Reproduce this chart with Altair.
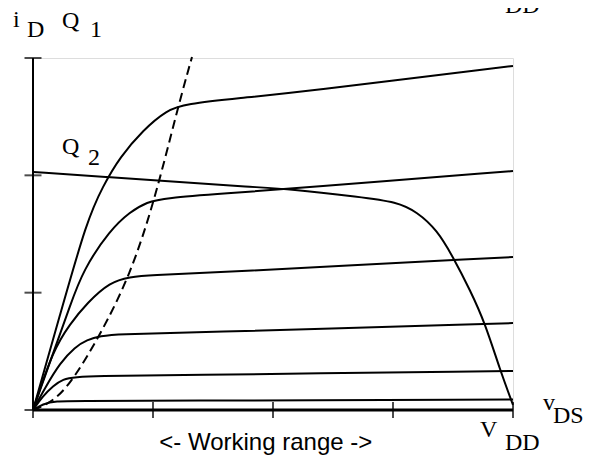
import altair as alt
import pandas as pd

# Family of MOSFET characteristic curves (v in VDD/4 units, i in tick units)
c1_v = [0, 0.225, 0.45, 0.583, 0.725, 0.917, 1.117, 1.267, 1.725, 2.225, 4.0]
c1_i = [0, 0.810, 1.619, 1.909, 2.156, 2.386, 2.557, 2.608, 2.659, 2.710, 2.932]
c2_v = [0, 0.183, 0.308, 0.417, 0.642, 0.808, 0.95, 1.1, 1.6, 2.225, 4.0]
c2_i = [0, 0.528, 0.886, 1.193, 1.534, 1.688, 1.773, 1.807, 1.845, 1.892, 2.037]
c3_v = [0, 0.167, 0.308, 0.45, 0.642, 0.808, 0.975, 1.5, 4.0]
c3_i = [0, 0.511, 0.733, 0.912, 1.091, 1.134, 1.151, 1.170, 1.304]
c4_v = [0, 0.1, 0.225, 0.35, 0.45, 0.558, 0.725, 1.2, 4.0]
c4_i = [0, 0.188, 0.401, 0.537, 0.597, 0.631, 0.648, 0.655, 0.741]
c5_v = [0, 0.083, 0.167, 0.25, 0.35, 0.558, 1.0, 4.0]
c5_i = [0, 0.119, 0.205, 0.264, 0.281, 0.29, 0.295, 0.332]
c6_v = [0, 0.083, 0.183, 0.392, 1.0, 4.0]
c6_i = [0, 0.051, 0.077, 0.077, 0.079, 0.089]

# Load curve Q2
q2_v = [0, 0.617, 1.225, 1.808, 2.142, 2.725, 3.033, 3.2, 3.367, 3.5, 3.642, 3.767, 3.892, 4.0]
q2_i = [2.028, 1.986, 1.943, 1.901, 1.884, 1.815, 1.773, 1.688, 1.534, 1.304, 1.023, 0.741, 0.341, 0.043]

# Dashed saturation boundary
dash_v = [0, 0.183, 0.35, 0.558, 0.808, 1.017, 1.208, 1.325]
dash_i = [0, 0.077, 0.281, 0.639, 1.142, 1.798, 2.583, 3.009]

# Axis ticks
x_ticks = [0, 1, 2, 3, 4]
y_ticks = [0, 1, 2, 3]

# Labels
serif_text = ["i", "D", "Q", "1", "Q", "2", "v", "DS", "V", "DD", "DD"]
serif_v = [-0.167, -0.05, 0.242, 0.475, 0.242, 0.458, 4.25, 4.333, 3.725, 3.933, 3.933]
serif_i = [3.264, 3.179, 3.256, 3.179, 2.182, 2.088, 0.0, -0.111, -0.23, -0.34, 3.384]
sans_text = ["<- Working range ->"]
sans_v = [1.94]
sans_i = [-0.34]

rows = []
for name, vs, is_ in [("c1", c1_v, c1_i), ("c2", c2_v, c2_i), ("c3", c3_v, c3_i),
                      ("c4", c4_v, c4_i), ("c5", c5_v, c5_i), ("c6", c6_v, c6_i),
                      ("q2", q2_v, q2_i)]:
    for k, (a, b) in enumerate(zip(vs, is_)):
        rows.append({"curve": name, "v": a, "i": b, "o": k})
curves = pd.DataFrame(rows)
dashed = pd.DataFrame({"v": dash_v, "i": dash_i, "o": list(range(len(dash_v)))})
xt = pd.DataFrame({"v": x_ticks, "i": [0] * len(x_ticks)})
yt = pd.DataFrame({"v": [0] * len(y_ticks), "i": y_ticks})
axes_df = pd.DataFrame({"v": [0, 0], "i": [0, 0], "v2": [4, 0], "i2": [0, 3]})
serif_df = pd.DataFrame({"t": serif_text, "v": serif_v, "i": serif_i})
sans_df = pd.DataFrame({"t": sans_text, "v": sans_v, "i": sans_i})

X = alt.X("v:Q", scale=alt.Scale(domain=[0, 4], nice=False, zero=False), axis=None)
Y = alt.Y("i:Q", scale=alt.Scale(domain=[0, 3], nice=False, zero=False), axis=None)

lines = alt.Chart(curves).mark_line(color="black", strokeWidth=2, interpolate="basis", clip=False).encode(
    x=X, y=Y, detail="curve:N", order="o:Q")
dash = alt.Chart(dashed).mark_line(color="black", strokeWidth=2, strokeDash=[9, 5], interpolate="basis", clip=False).encode(
    x=X, y=Y, order="o:Q")
xaxis = alt.Chart(axes_df.iloc[[0]]).mark_rule(color="black", strokeWidth=3).encode(
    x=X, y=Y, x2="v2:Q", y2="i2:Q")
yaxis = alt.Chart(axes_df.iloc[[1]]).mark_rule(color="black", strokeWidth=2).encode(
    x=X, y=Y, x2="v2:Q", y2="i2:Q")
xtick = alt.Chart(xt).mark_tick(orient="vertical", size=16, thickness=2, color="black").encode(x=X, y=Y)
ytick = alt.Chart(yt).mark_tick(orient="horizontal", size=17, thickness=2, color="black").encode(x=X, y=Y)
serif = alt.Chart(serif_df).mark_text(font="Liberation Serif", fontSize=24, align="left",
                                      baseline="alphabetic", color="black").encode(x=X, y=Y, text="t:N")
sans = alt.Chart(sans_df).mark_text(font="Liberation Sans", fontSize=24, align="center",
                                    baseline="alphabetic", color="black").encode(x=X, y=Y, text="t:N")

chart = alt.layer(lines, dash, xaxis, yaxis, xtick, ytick, serif, sans).properties(
    width=480, height=352,
    autosize=alt.AutoSizeParams(type="none"),
    padding={"left": 25, "top": 50, "right": 87, "bottom": 45},
).configure_view(stroke=None).configure(background="white")

chart.save("out.html", embed_options={"renderer": "svg", "actions": False})
